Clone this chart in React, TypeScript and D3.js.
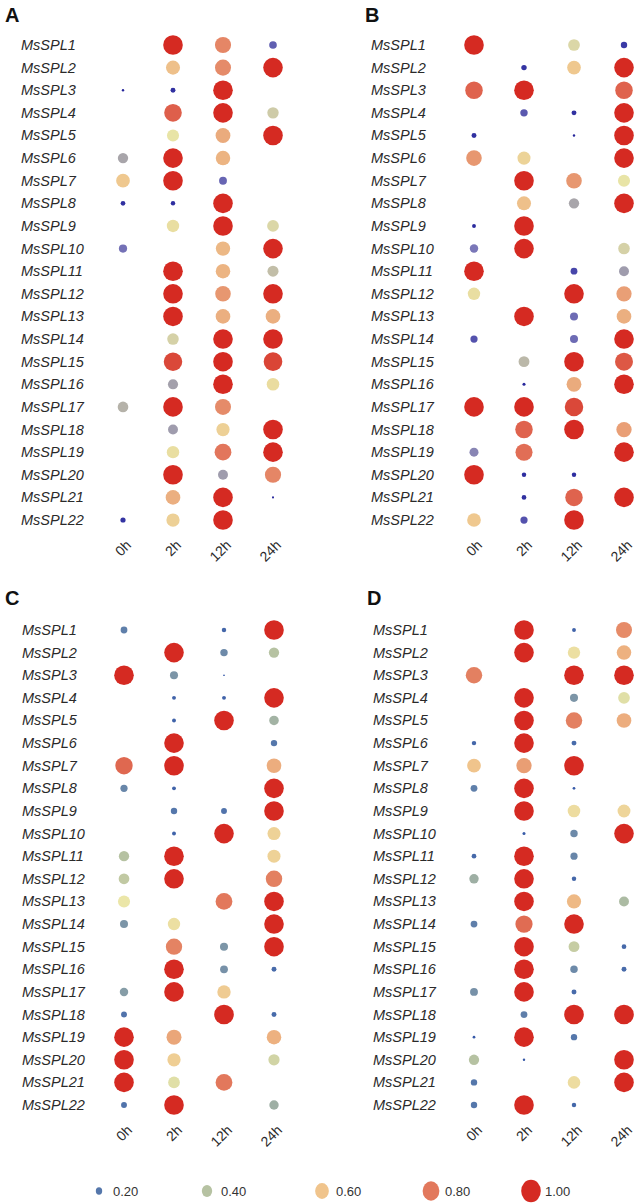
import React from "react";
import * as d3 from "d3";

const genes = Array.from({ length: 22 }, (_, i) => `MsSPL${i + 1}`);
const times = ["0h", "2h", "12h", "24h"];
const legendValues = [0.2, 0.4, 0.6, 0.8, 1.0];
const legendLabels = ["0.20", "0.40", "0.60", "0.80", "1.00"];

type V = number | null;

const panelA: V[][] = [
  [null, 1.0, 0.76, 0.26],
  [null, 0.62, 0.75, 1.0],
  [0.05, 0.14, 1.0, null],
  [null, 0.86, 1.0, 0.46],
  [null, 0.5, 0.67, 1.0],
  [0.4, 1.0, 0.65, null],
  [0.6, 1.0, 0.27, null],
  [0.13, 0.12, 1.0, null],
  [null, 0.52, 1.0, 0.48],
  [0.29, null, 0.64, 1.0],
  [null, 1.0, 0.65, 0.44],
  [null, 1.0, 0.72, 1.0],
  [null, 1.0, 0.66, 0.66],
  [null, 0.47, 1.0, 1.0],
  [null, 0.92, 1.0, 0.93],
  [null, 0.39, 1.0, 0.53],
  [0.42, 1.0, 0.75, null],
  [null, 0.38, 0.57, 1.0],
  [null, 0.52, 0.8, 1.0],
  [null, 1.0, 0.38, 0.76],
  [null, 0.66, 1.0, 0.04],
  [0.15, 0.57, 1.0, null],
];

const panelB: V[][] = [
  [1.0, null, 0.48, 0.2],
  [null, 0.16, 0.6, 1.0],
  [0.85, 1.0, null, 0.85],
  [null, 0.25, 0.14, 1.0],
  [0.14, null, 0.05, 1.0],
  [0.72, 0.56, null, 1.0],
  [null, 1.0, 0.72, 0.5],
  [null, 0.62, 0.4, 1.0],
  [0.1, 1.0, null, null],
  [0.3, 1.0, null, 0.47],
  [1.0, null, 0.22, 0.38],
  [0.52, null, 1.0, 0.7],
  [null, 1.0, 0.28, 0.66],
  [0.24, null, 0.28, 1.0],
  [null, 0.43, 1.0, 0.88],
  [null, 0.07, 0.67, 1.0],
  [1.0, 1.0, 0.92, null],
  [null, 0.85, 1.0, 0.7],
  [0.33, 0.82, null, 1.0],
  [1.0, 0.12, 0.12, null],
  [null, 0.13, 0.85, 1.0],
  [0.6, 0.24, 1.0, null],
];

const panelC: V[][] = [
  [0.22, null, 0.12, 1.0],
  [null, 1.0, 0.25, 0.4],
  [1.0, 0.28, 0.03, null],
  [null, 0.1, 0.1, 1.0],
  [null, 0.1, 1.0, 0.36],
  [null, 1.0, null, 0.2],
  [0.84, 1.0, null, 0.66],
  [0.24, 0.1, null, 1.0],
  [null, 0.2, 0.18, 1.0],
  [null, 0.1, 1.0, 0.56],
  [0.4, 1.0, null, 0.56],
  [0.42, 1.0, null, 0.78],
  [0.5, null, 0.8, 1.0],
  [0.28, 0.52, null, 1.0],
  [null, 0.77, 0.28, 1.0],
  [null, 1.0, 0.27, 0.14],
  [0.3, 1.0, 0.58, null],
  [0.18, null, 1.0, 0.14],
  [1.0, 0.68, null, 0.65],
  [1.0, 0.57, null, 0.45],
  [1.0, 0.48, 0.8, null],
  [0.18, 1.0, null, 0.35],
];

const panelD: V[][] = [
  [null, 1.0, 0.1, 0.75],
  [null, 1.0, 0.52, 0.65],
  [0.78, null, 1.0, 1.0],
  [null, 1.0, 0.28, 0.48],
  [null, 1.0, 0.78, 0.66],
  [0.12, 1.0, 0.14, null],
  [0.6, 0.7, 1.0, null],
  [0.22, 1.0, 0.06, null],
  [null, 1.0, 0.53, 0.55],
  [null, 0.07, 0.25, 1.0],
  [0.13, 1.0, 0.24, null],
  [0.35, 1.0, 0.12, null],
  [null, 1.0, 0.63, 0.38],
  [0.22, 0.83, 1.0, null],
  [null, 1.0, 0.43, 0.13],
  [null, 1.0, 0.25, 0.14],
  [0.27, 1.0, 0.14, null],
  [null, 0.22, 1.0, 1.0],
  [0.06, 1.0, 0.2, null],
  [0.4, 0.05, null, 1.0],
  [0.2, null, 0.53, 1.0],
  [0.2, 1.0, 0.12, null],
];

const rScale = d3.scalePow().exponent(0.7).domain([0, 1]).range([0, 9.8]);

const colorAB = d3
  .scaleLinear<string>()
  .domain([0, 0.2, 0.3, 0.4, 0.5, 0.6, 0.8, 1.0])
  .range(["#1c1c96", "#3a3aa6", "#7a77b8", "#a8a5aa", "#e8e4a6", "#efc88f", "#e2765c", "#d52a22"])
  .interpolate(d3.interpolateRgb)
  .clamp(true);

const colorCD = d3
  .scaleLinear<string>()
  .domain([0, 0.2, 0.4, 0.5, 0.6, 0.8, 1.0])
  .range(["#2a4ea6", "#5577ab", "#b6c2a2", "#ebe6a8", "#f0c48c", "#e2785c", "#d52a22"])
  .interpolate(d3.interpolateRgb)
  .clamp(true);

const FONT = "Liberation Sans, Arial, sans-serif";

type PanelProps = {
  letter: string;
  data: V[][];
  labelX: number;
  colX0: number;
  rowY0: number;
  letterX: number;
  letterY: number;
  color: (v: number) => string;
};

function Panel({ letter, data, labelX, colX0, rowY0, letterX, letterY, color }: PanelProps) {
  const x = d3.scalePoint<string>().domain(times).range([colX0, colX0 + 150]);
  const y = d3
    .scalePoint<string>()
    .domain(genes)
    .range([rowY0, rowY0 + 21 * 22.62]);
  const lastY = y(genes[genes.length - 1]) as number;
  return (
    <g>
      <text x={letterX} y={letterY} fontFamily={FONT} fontWeight="bold" fontSize={20} fill="#111">
        {letter}
      </text>
      {genes.map((g) => (
        <text
          key={g}
          x={labelX}
          y={(y(g) as number) + 5}
          fontFamily={FONT}
          fontStyle="italic"
          fontSize={14.5}
          fill="#2a2a2a"
        >
          {g}
        </text>
      ))}
      {data.map((row, i) =>
        row.map((v, j) =>
          v == null ? null : (
            <circle
              key={`${i}-${j}`}
              cx={x(times[j]) as number}
              cy={y(genes[i]) as number}
              r={rScale(v)}
              fill={color(v)}
            />
          )
        )
      )}
      {times.map((t) => {
        const cx = x(t) as number;
        return (
          <text
            key={t}
            transform={`translate(${cx + 9},${lastY + 26}) rotate(-45)`}
            textAnchor="end"
            fontFamily={FONT}
            fontSize={14}
            fill="#2a2a2a"
          >
            {t}
          </text>
        );
      })}
    </g>
  );
}

export default function App() {
  const legendX = [99, 207, 322, 431, 531];
  return (
    <svg
      width={636}
      height={1203}
      style={{ position: "absolute", left: 0, top: 0, background: "#fff" }}
    >
      <rect width={636} height={1203} fill="#fff" />
      <Panel letter="A" data={panelA} labelX={21} colX0={123} rowY0={45} letterX={5} letterY={22} color={colorAB} />
      <Panel letter="B" data={panelB} labelX={371} colX0={474} rowY0={45} letterX={365} letterY={22} color={colorAB} />
      <Panel letter="C" data={panelC} labelX={22} colX0={124} rowY0={630} letterX={5} letterY={605} color={colorCD} />
      <Panel letter="D" data={panelD} labelX={373} colX0={474} rowY0={630} letterX={367} letterY={605} color={colorCD} />
      <g>
        {legendValues.map((v, i) => (
          <g key={v}>
            <ellipse
              cx={legendX[i]}
              cy={1191}
              rx={rScale(v)}
              ry={rScale(v) * 1.15}
              fill={colorCD(v)}
            />
            <text x={legendX[i] + 14} y={1196} fontFamily={FONT} fontSize={13} fill="#333">
              {legendLabels[i]}
            </text>
          </g>
        ))}
      </g>
    </svg>
  );
}
